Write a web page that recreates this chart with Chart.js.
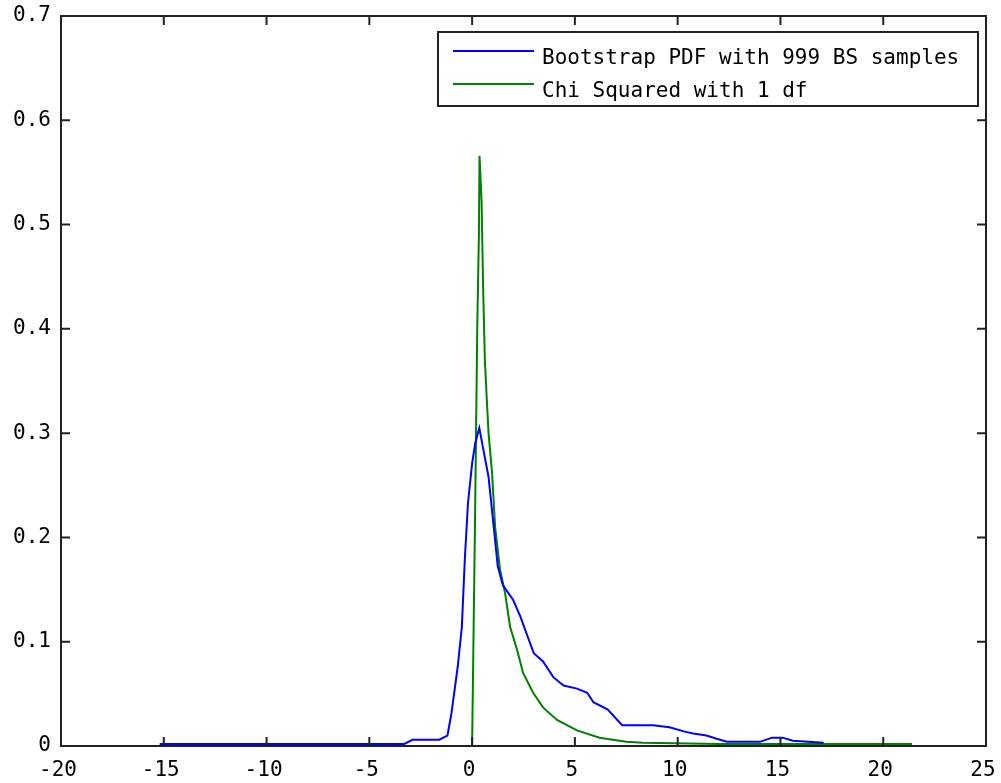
<!DOCTYPE html>
<html>
<head>
<meta charset="utf-8">
<script src="https://cdn.jsdelivr.net/npm/chart.js"></script>
<style>
  body { margin: 0; background: #fff; }
</style>
</head>
<body>
<canvas id="myChart" width="1001" height="783"></canvas>
<script>
// bootstrap pdf
const bsX = [-15.2, -3.3, -2.9, -1.6, -1.2, -1.0, -0.85, -0.7, -0.5, -0.35, -0.2, 0, 0.15, 0.35, 0.55, 0.8, 1.0, 1.25, 1.5, 2.0, 2.35, 2.7, 3.0, 3.45, 3.95, 4.45, 5.1, 5.6, 5.9, 6.6, 7.3, 8.8, 9.6, 10.3, 10.75, 11.4, 11.9, 12.4, 14.0, 14.6, 15.1, 15.6, 17.1];
const bsY = [0.002, 0.002, 0.006, 0.006, 0.01, 0.032, 0.054, 0.076, 0.114, 0.181, 0.233, 0.271, 0.29, 0.305, 0.284, 0.258, 0.22, 0.172, 0.154, 0.14, 0.124, 0.105, 0.089, 0.081, 0.066, 0.058, 0.055, 0.051, 0.042, 0.035, 0.02, 0.02, 0.018, 0.014, 0.012, 0.01, 0.007, 0.004, 0.004, 0.008, 0.008, 0.005, 0.003];

// chi squared 1 df
const chiX = [0, 0.15, 0.25, 0.33, 0.36, 0.46, 0.53, 0.62, 0.72, 0.8, 0.97, 1.12, 1.36, 1.6, 1.85, 2.19, 2.48, 2.97, 3.45, 4.13, 5.1, 6.2, 7.5, 8.3, 12, 21.4];
const chiY = [0, 0.23, 0.40, 0.49, 0.566, 0.523, 0.445, 0.37, 0.33, 0.30, 0.262, 0.21, 0.169, 0.147, 0.114, 0.092, 0.07, 0.051, 0.037, 0.025, 0.015, 0.008, 0.004, 0.003, 0.002, 0.002];

const seriesLabels = ['Bootstrap PDF with 999 BS samples', 'Chi Squared with 1 df'];
const seriesColors = ['#0000ff', '#008000'];

const xTicks = [-20, -15, -10, -5, 0, 5, 10, 15, 20, 25];
const yTicks = [0, 0.1, 0.2, 0.3, 0.4, 0.5, 0.6, 0.7];

const fontFamily = '"DejaVu Sans Mono", monospace';

function toPoints(xs, ys) {
    return xs.map((x, i) => ({x: x, y: ys[i]}));
}

// matlab style box, inward ticks and legend
const boxPlugin = {
    id: 'boxPlugin',
    afterDraw(chart) {
        const ctx = chart.ctx;
        const a = chart.chartArea;
        const xs = chart.scales.x;
        const ys = chart.scales.y;
        const tl = 9;
        ctx.save();
        ctx.strokeStyle = '#222';
        ctx.lineWidth = 2;
        ctx.strokeRect(a.left, a.top, a.right - a.left, a.bottom - a.top);
        ctx.beginPath();
        for (const v of xTicks) {
            const px = xs.getPixelForValue(v);
            ctx.moveTo(px, a.bottom); ctx.lineTo(px, a.bottom - tl);
            ctx.moveTo(px, a.top); ctx.lineTo(px, a.top + tl);
        }
        for (const v of yTicks) {
            const py = ys.getPixelForValue(v);
            ctx.moveTo(a.left, py); ctx.lineTo(a.left + tl, py);
            ctx.moveTo(a.right, py); ctx.lineTo(a.right - tl, py);
        }
        ctx.stroke();

        // legend
        const lx = 438, ly = 32, lw = 540, lh = 74;
        ctx.fillStyle = '#fff';
        ctx.fillRect(lx, ly, lw, lh);
        ctx.strokeRect(lx, ly, lw, lh);
        ctx.font = '21px ' + fontFamily;
        ctx.textBaseline = 'alphabetic';
        const rows = [51, 84];
        chart.data.datasets.forEach((ds, i) => {
            ctx.strokeStyle = ds.borderColor;
            ctx.beginPath();
            ctx.moveTo(453, rows[i]);
            ctx.lineTo(534, rows[i]);
            ctx.stroke();
            ctx.fillStyle = '#000';
            ctx.fillText(ds.label, 542, rows[i] + 13);
        });
        ctx.restore();
    }
};

const myChartRef = document.getElementById('myChart').getContext('2d');
new Chart(myChartRef, {
    type: 'scatter',
    data: {
        datasets: [{
            label: seriesLabels[0],
            data: toPoints(bsX, bsY),
            showLine: true,
            borderColor: seriesColors[0],
            backgroundColor: seriesColors[0],
            borderWidth: 2,
            pointRadius: 0
        }, {
            label: seriesLabels[1],
            data: toPoints(chiX, chiY),
            showLine: true,
            borderColor: seriesColors[1],
            backgroundColor: seriesColors[1],
            borderWidth: 2,
            pointRadius: 0
        }]
    },
    options: {
        responsive: false,
        animation: false,
        layout: {
            padding: {top: 16, right: 15, left: 0, bottom: 0}
        },
        plugins: {
            legend: {display: false},
            tooltip: {enabled: false}
        },
        scales: {
            x: {
                type: 'linear',
                min: -20,
                max: 25,
                afterBuildTicks: (scale) => { scale.ticks = xTicks.map(v => ({value: v})); },
                afterFit: (scale) => {
                    scale.height = 37;
                    scale.paddingLeft = 0;
                    scale.paddingRight = 0;
                },
                grid: {display: false, drawTicks: false},
                border: {display: false},
                ticks: {
                    color: '#000',
                    font: {family: fontFamily, size: 21},
                    padding: 12,
                    labelOffset: -3,
                    maxRotation: 0,
                    callback: (v) => String(v)
                }
            },
            y: {
                min: 0,
                max: 0.7,
                afterBuildTicks: (scale) => { scale.ticks = yTicks.map(v => ({value: v})); },
                afterFit: (scale) => {
                    scale.width = 61;
                    scale.paddingTop = 0;
                    scale.paddingBottom = 0;
                },
                grid: {display: false, drawTicks: false},
                border: {display: false},
                ticks: {
                    color: '#000',
                    font: {family: fontFamily, size: 21},
                    padding: 10,
                    callback: (v) => v === 0 ? '0' : v.toFixed(1)
                }
            }
        }
    },
    plugins: [boxPlugin]
});
</script>
</body>
</html>
